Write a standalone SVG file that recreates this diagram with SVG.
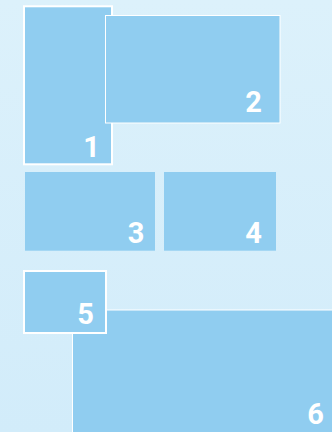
<svg xmlns="http://www.w3.org/2000/svg" width="332" height="432" viewBox="0 0 332 432">
<defs>
<linearGradient id="bg" x1="0" y1="0" x2="0" y2="1">
<stop offset="0" stop-color="#dcf1fb"/>
<stop offset="1" stop-color="#d2ecfa"/>
</linearGradient>
</defs>
<style>
.box{fill:#90cdf0}
.thick{stroke:#ffffff;stroke-width:2}
.thin{stroke:#ffffff;stroke-width:1}
.lbl{font-family:Roboto,"Liberation Sans",sans-serif;font-weight:bold;font-size:29px;fill:#ffffff;text-anchor:end}
</style>
<rect x="0" y="0" width="332" height="432" fill="url(#bg)"/>
<g id="node6"><rect class="box thin" x="72.5" y="310" width="262" height="130"/><text class="lbl" x="324" y="424">6</text></g>
<g id="node5"><rect class="box thick" x="24" y="271" width="82" height="62"/><text class="lbl" x="94" y="324.3">5</text></g>
<g id="node1"><rect class="box thick" x="24" y="6.3" width="88" height="158"/><text class="lbl" x="100" y="156.7">1</text></g>
<g id="node2"><rect class="box thin" x="105.5" y="15.5" width="174.5" height="107.5"/><text class="lbl" x="262" y="111.7">2</text></g>
<g id="node3"><rect class="box" x="25" y="172" width="130" height="78.7"/><text class="lbl" x="144.5" y="243.3">3</text></g>
<g id="node4"><rect class="box" x="164" y="172" width="112" height="78.7"/><text class="lbl" x="262" y="243.3">4</text></g>
<g id="connectors"/>
</svg>
